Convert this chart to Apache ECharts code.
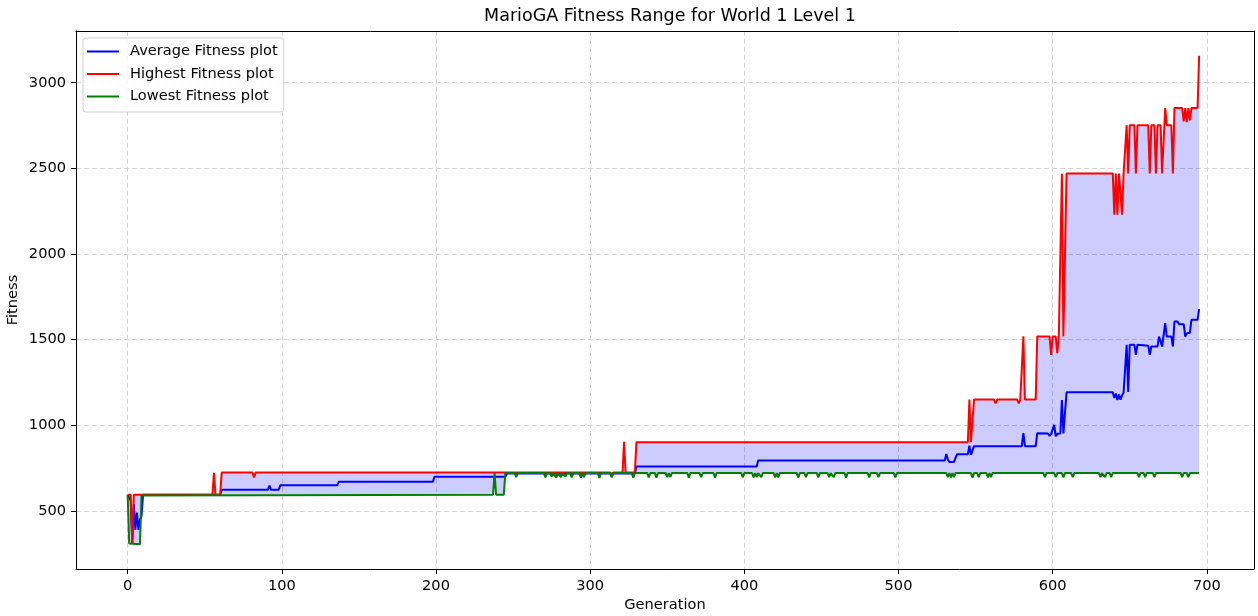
<!DOCTYPE html>
<html>
<head>
<meta charset="utf-8">
<script src="https://cdn.jsdelivr.net/npm/echarts@6/dist/echarts.min.js"></script>
<style>
html,body{margin:0;padding:0;background:#fff;}
#chart{width:1258px;height:616px;}
</style>
</head>
<body>
<div id="chart"></div>
<script>
// [generation, fitness] breakpoints (values constant between listed points)
const avgFitness = [[0,595],[1,580],[2,560],[3,310],[4,540],[5,390],[6,490],[7,390],[8,450],[9,470],[10,595],[60,595],[61,623],[91,623],[92,648],[93,623],[98,623],[99,650],[136,650],[137,671],[185,671],[186,662],[187,671],[198,671],[199,700],[224,700],[225,693],[226,700],[245,700],[246,718],[329,718],[330,759],[337,759],[338,752],[339,759],[408,759],[409,794],[465,794],[466,788],[467,794],[530,794],[531,833],[532,800],[533,786],[536,786],[537,810],[538,831],[545,831],[546,881],[547,827],[548,827],[549,878],[563,878],[564,870],[565,878],[580,878],[581,955],[582,878],[589,878],[590,954],[597,952],[598,938],[599,950],[600,955],[601,1002],[602,936],[603,950],[605,952],[606,1148],[607,952],[608,952],[609,1193],[639,1193],[640,1160],[641,1185],[642,1148],[643,1180],[644,1150],[645,1175],[646,1190],[647,1195],[648,1470],[649,1195],[650,1470],[653,1470],[654,1411],[655,1470],[662,1465],[663,1411],[664,1460],[668,1460],[669,1518],[670,1490],[671,1460],[672,1470],[673,1596],[674,1518],[677,1518],[678,1460],[679,1606],[681,1606],[682,1590],[685,1590],[686,1518],[687,1537],[689,1540],[690,1616],[694,1616],[695,1678]];
const maxFitness = [[0,595],[2,595],[3,310],[4,595],[55,595],[56,722],[57,595],[60,595],[61,724],[81,724],[82,695],[83,724],[313,724],[314,700],[315,724],[321,724],[322,903],[323,724],[329,724],[330,901],[545,901],[546,1150],[547,901],[548,901],[549,1150],[562,1150],[563,1128],[564,1150],[577,1150],[578,1128],[579,1150],[580,1150],[581,1520],[582,1150],[589,1150],[590,1518],[598,1518],[599,1411],[600,1518],[602,1518],[603,1421],[604,1518],[605,1518],[606,2468],[607,1518],[608,1518],[609,2470],[639,2470],[640,2229],[641,2470],[642,2229],[643,2470],[644,2470],[645,2229],[646,2470],[647,2470],[648,2752],[649,2470],[650,2752],[653,2752],[654,2470],[655,2752],[662,2752],[663,2470],[664,2752],[666,2752],[667,2470],[668,2752],[670,2752],[671,2470],[672,2470],[673,2852],[674,2752],[677,2752],[678,2470],[679,2852],[684,2852],[685,2775],[686,2852],[687,2770],[688,2852],[689,2780],[690,2852],[694,2852],[695,3158]];
const minFitness = [[0,595],[1,310],[8,306],[9,590],[10,595],[237,595],[238,721],[239,595],[244,595],[245,721],[251,721],[252,698],[253,721],[270,721],[271,695],[272,721],[274,721],[275,700],[276,721],[277,721],[278,694],[279,721],[280,721],[281,698],[282,721],[283,721],[284,700],[285,721],[287,721],[288,695],[289,721],[293,721],[294,694],[295,721],[296,698],[297,721],[305,721],[306,693],[307,721],[313,721],[314,696],[315,721],[327,721],[328,694],[329,721],[337,721],[338,696],[339,721],[342,721],[343,694],[344,721],[349,721],[350,697],[351,721],[352,698],[353,721],[363,721],[364,694],[365,721],[371,721],[372,697],[373,721],[380,721],[381,694],[382,721],[398,721],[399,695],[400,721],[405,721],[406,696],[407,721],[408,697],[409,721],[410,721],[411,697],[412,721],[419,721],[420,695],[421,721],[422,696],[423,721],[434,721],[435,694],[436,721],[439,721],[440,697],[441,721],[447,721],[448,695],[449,721],[454,721],[455,697],[456,721],[457,721],[458,697],[459,721],[465,721],[466,694],[467,721],[480,721],[481,696],[482,721],[486,721],[487,697],[488,721],[497,721],[498,695],[499,721],[531,721],[532,697],[533,721],[534,695],[535,721],[536,697],[537,721],[547,721],[548,694],[549,721],[551,721],[552,697],[553,721],[557,721],[558,695],[559,721],[560,697],[561,721],[594,721],[595,698],[596,721],[601,721],[602,697],[603,721],[606,721],[607,696],[608,721],[612,721],[613,697],[614,721],[630,721],[631,697],[632,721],[633,721],[634,697],[635,721],[637,721],[638,697],[639,721],[655,721],[656,697],[657,721],[659,721],[660,697],[661,721],[665,721],[666,697],[667,721],[683,721],[684,697],[685,721],[687,721],[688,697],[689,721],[695,722]];
const xTicks = [0,100,200,300,400,500,600,700];
const yTicks = [500,1000,1500,2000,2500,3000];

const FONT = 'DejaVu Sans';
const FS = 14.6;
const chart = echarts.init(document.getElementById('chart'), null, {renderer:'canvas'});
const gridLine = {show:true, lineStyle:{color:'#d4d4d4', type:[5,3], width:1}};
const plain = v => String(v);
chart.setOption({
  animation:false,
  backgroundColor:'#ffffff',
  title:{text:'MarioGA Fitness Range for World 1 Level 1', left:665, top:2, textAlign:'center',
    textStyle:{fontFamily:FONT, fontSize:17.5, fontWeight:'normal', color:'#000'}},
  legend:{
    orient:'vertical', left:83, top:38,
    data:['Average Fitness plot','Highest Fitness plot','Lowest Fitness plot'],
    itemWidth:32, itemHeight:14, itemGap:7.5,
    padding:[6,6,8,4],
    backgroundColor:'rgba(255,255,255,0.8)', borderColor:'#d0d0d0', borderWidth:1, borderRadius:3,
    textStyle:{fontFamily:FONT, fontSize:FS, color:'#000', padding:[0,0,0,6]},
    icon:'path://M0,6 L32,6 L32,8 L0,8 Z'
  },
  grid:{left:76, right:4, top:31, bottom:47, containLabel:false, outerBoundsMode:'none'},
  xAxis:[{
    type:'value', min:-33.5, max:730.6,
    name:'Generation', nameLocation:'middle', nameGap:29, nameMoveOverlap:false,
    nameTextStyle:{fontFamily:FONT, fontSize:FS, color:'#000'},
    axisLine:{show:true, onZero:false, lineStyle:{color:'#000', width:1}},
    axisTick:{show:true, length:5, lineStyle:{color:'#000'}, customValues:xTicks},
    axisLabel:{fontFamily:FONT, fontSize:FS, color:'#000', margin:10, customValues:xTicks, formatter:plain},
    splitLine:gridLine
  },{
    type:'value', min:-33.5, max:730.6, position:'top',
    axisLine:{show:true, onZero:false, lineStyle:{color:'#000', width:1}},
    axisTick:{show:false}, axisLabel:{show:false}, splitLine:{show:false}
  }],
  yAxis:[{
    type:'value', min:161, max:3302,
    name:'Fitness', nameLocation:'middle', nameGap:55, nameRotate:90, nameMoveOverlap:false,
    nameTextStyle:{fontFamily:FONT, fontSize:FS, color:'#000'},
    axisLine:{show:true, onZero:false, lineStyle:{color:'#000', width:1}},
    axisTick:{show:true, length:5, lineStyle:{color:'#000'}, customValues:yTicks},
    axisLabel:{fontFamily:FONT, fontSize:FS, color:'#000', margin:10, customValues:yTicks, formatter:plain},
    splitLine:gridLine
  },{
    type:'value', min:161, max:3302, position:'right',
    axisLine:{show:true, onZero:false, lineStyle:{color:'#000', width:1}},
    axisTick:{show:false}, axisLabel:{show:false}, splitLine:{show:false}
  }],
  series:[
    {
      type:'custom', name:'range', xAxisIndex:0, yAxisIndex:0, z:1, silent:true,
      data:[[0,595]],
      renderItem:function(params, api){
        const pts = maxFitness.map(p=>api.coord(p)).concat(minFitness.slice().reverse().map(p=>api.coord(p)));
        return {type:'polygon', shape:{points:pts}, style:{fill:'rgba(0,0,255,0.2)'}};
      }
    },
    {type:'line', name:'Average Fitness plot', data:avgFitness, symbol:'none', showSymbol:false, z:3,
      lineStyle:{color:'#0000ff', width:2}, itemStyle:{color:'#0000ff'}},
    {type:'line', name:'Highest Fitness plot', data:maxFitness, symbol:'none', showSymbol:false, z:4,
      lineStyle:{color:'#ff0000', width:2}, itemStyle:{color:'#ff0000'}},
    {type:'line', name:'Lowest Fitness plot', data:minFitness, symbol:'none', showSymbol:false, z:5,
      lineStyle:{color:'#008000', width:2}, itemStyle:{color:'#008000'}}
  ]
});
</script>
</body>
</html>
